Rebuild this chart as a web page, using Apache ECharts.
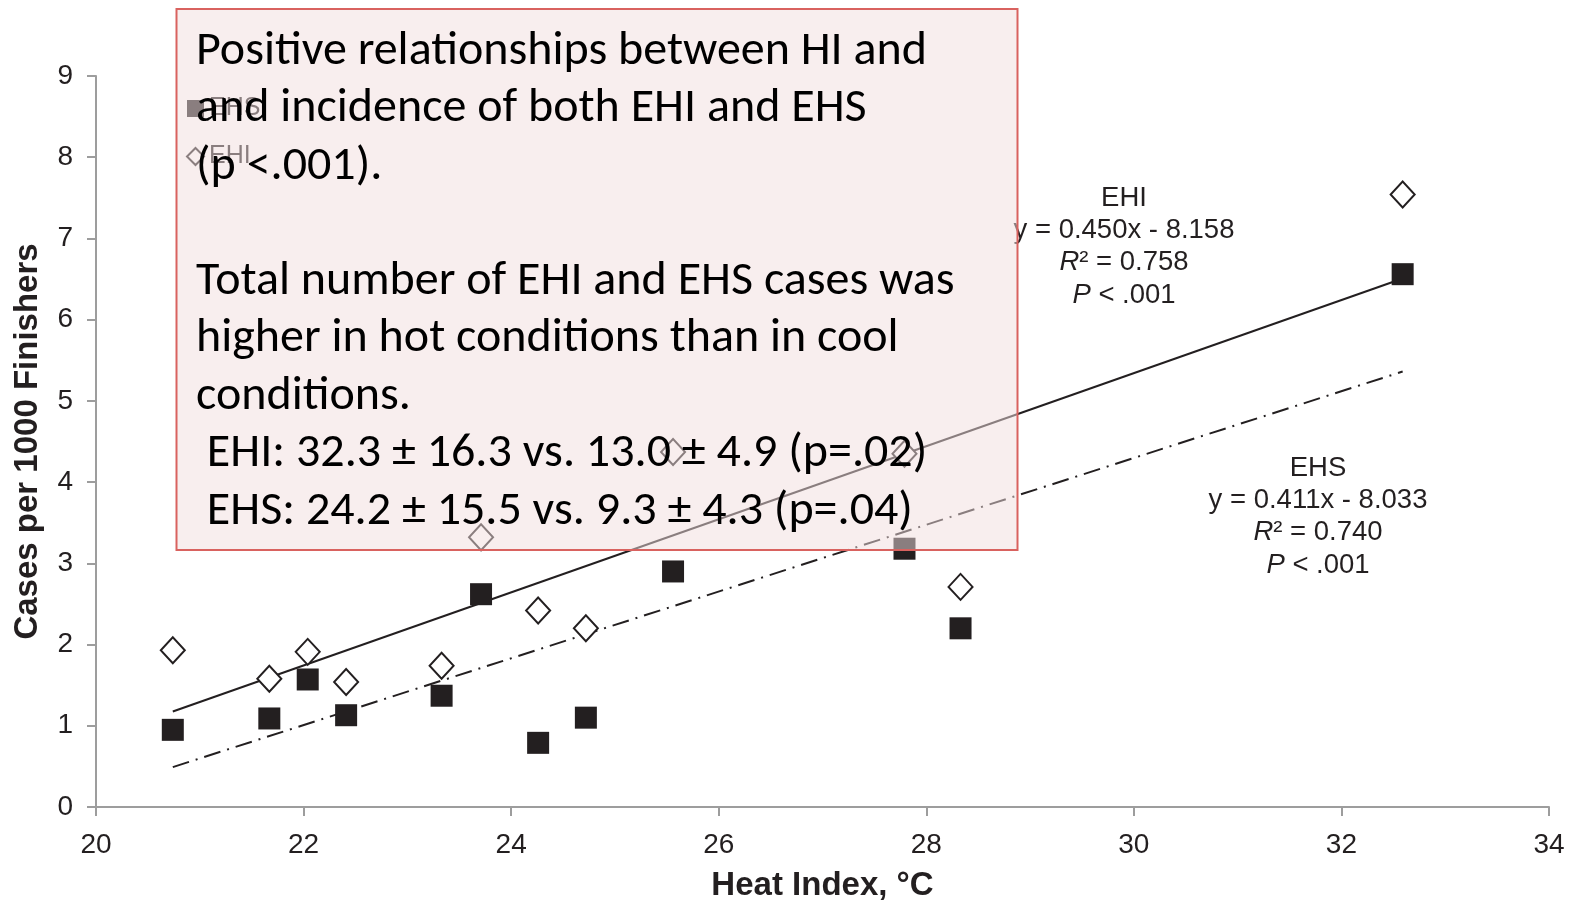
<!DOCTYPE html>
<html>
<head>
<meta charset="utf-8">
<script src="https://cdn.jsdelivr.net/npm/echarts@6/dist/echarts.min.js"></script>
<style>
  html, body { margin: 0; padding: 0; background: #fff; }
  #main { width: 1570px; height: 902px; }
</style>
</head>
<body>
<div id="main"></div>
<script>
var myChart = echarts.init(document.getElementById('main'));

// heat index of each race, deg C
var heatIndex = [20.74, 21.67, 22.04, 22.41, 23.33, 23.71, 24.26, 24.72, 25.56, 27.79, 28.33, 32.59];
// cases per 1000 finishers
var ehiCases = [1.93, 1.58, 1.91, 1.54, 1.74, 3.32, 2.42, 2.20, 4.37, 4.35, 2.71, 7.54];
var ehsCases = [0.95, 1.09, 1.57, 1.13, 1.37, 2.62, 0.79, 1.10, 2.90, 3.18, 2.20, 6.56];
// regression [slope, intercept]
var ehiFit = [0.450, -8.158];
var ehsFit = [0.411, -8.033];
var xTicks = [20, 22, 24, 26, 28, 30, 32, 34];
var yTicks = [0, 1, 2, 3, 4, 5, 6, 7, 8, 9];

var boxLines = [
    'Positive relationships between HI and',
    'and incidence of both EHI and EHS',
    '(p <.001).',
    '',
    'Total number of EHI and EHS cases was',
    'higher in hot conditions than in cool',
    'conditions.',
    ' EHI: 32.3 \u00b1 16.3 vs. 13.0 \u00b1 4.9 (p=.02)',
    ' EHS: 24.2 \u00b1 15.5 vs. 9.3 \u00b1 4.3 (p=.04)'
];
var ehiNote = ['EHI', 'y = 0.450x - 8.158', '{i|R}\u00b2 = 0.758', '{i|P} < .001'];
var ehsNote = ['EHS', 'y = 0.411x - 8.033', '{i|R}\u00b2 = 0.740', '{i|P} < .001'];

var ink = '#231f20';
var font = 'Liberation Sans, Arial, sans-serif';

function pairs(xs, ys) {
    return xs.map(function (x, i) { return [x, ys[i]]; });
}
function fitLine(fit) {
    var x0 = Math.min.apply(null, heatIndex), x1 = Math.max.apply(null, heatIndex);
    return [[x0, fit[0] * x0 + fit[1]], [x1, fit[0] * x1 + fit[1]]];
}

var noteStyle = {
    fontFamily: font,
    fontSize: 27.5,
    fill: ink,
    lineHeight: 32.3,
    textAlign: 'center',
    rich: { i: { fontStyle: 'italic', fontFamily: font, fontSize: 27.5, fill: ink, lineHeight: 32.3 } }
};

option = {
    animation: false,
    backgroundColor: '#fff',
    grid: { left: 96, right: 21, top: 76, bottom: 95, containLabel: false, outerBoundsMode: 'none' },
    legend: {
        data: ['EHS', 'EHI'],
        orient: 'vertical',
        left: 181,
        top: 91,
        itemWidth: 17,
        itemHeight: 17,
        itemGap: 23,
        textStyle: { fontFamily: font, fontSize: 25, color: ink }
    },
    xAxis: {
        type: 'value',
        min: xTicks[0],
        max: xTicks[xTicks.length - 1],
        interval: 2,
        name: 'Heat Index, \u00b0C',
        nameLocation: 'middle',
        nameGap: 62,
        nameTextStyle: { fontFamily: font, fontSize: 33, fontWeight: 'bold', color: ink },
        axisLine: { lineStyle: { color: '#9d9d9d', width: 2 } },
        axisTick: { length: 9, lineStyle: { color: '#9d9d9d', width: 2 } },
        axisLabel: { fontFamily: font, fontSize: 28, color: ink, margin: 24 },
        splitLine: { show: false }
    },
    yAxis: {
        type: 'value',
        min: yTicks[0],
        max: yTicks[yTicks.length - 1],
        interval: 1,
        name: 'Cases per 1000 Finishers',
        nameLocation: 'middle',
        nameGap: 52,
        nameTextStyle: { fontFamily: font, fontSize: 33, fontWeight: 'bold', color: ink },
        axisLine: { show: true, lineStyle: { color: '#9d9d9d', width: 2 } },
        axisTick: { show: true, length: 9, lineStyle: { color: '#9d9d9d', width: 2 } },
        axisLabel: { fontFamily: font, fontSize: 28, color: ink, margin: 23 },
        splitLine: { show: false }
    },
    series: [
        {
            name: 'EHI fit',
            type: 'line',
            data: fitLine(ehiFit),
            symbol: 'none',
            lineStyle: { color: ink, width: 2 },
            z: 2
        },
        {
            name: 'EHS fit',
            type: 'line',
            data: fitLine(ehsFit),
            symbol: 'none',
            lineStyle: { color: ink, width: 2, type: [17, 7, 2, 7] },
            z: 2
        },
        {
            name: 'EHS',
            type: 'scatter',
            symbol: 'rect',
            symbolSize: 22,
            data: pairs(heatIndex, ehsCases),
            itemStyle: { color: ink, opacity: 1 },
            z: 3
        },
        {
            name: 'EHI',
            type: 'scatter',
            symbol: 'diamond',
            symbolSize: [24, 26],
            data: pairs(heatIndex, ehiCases),
            itemStyle: { color: '#fff', borderColor: ink, borderWidth: 2, opacity: 1 },
            z: 3
        }
    ],
    graphic: [
        {
            type: 'text', z: 5, left: 1124 - 140, top: 182,
            style: Object.assign({ text: ehiNote.join('\n'), width: 280 }, noteStyle)
        },
        {
            type: 'text', z: 5, left: 1318 - 140, top: 452,
            style: Object.assign({ text: ehsNote.join('\n'), width: 280 }, noteStyle)
        },
        {
            type: 'rect', z: 100,
            shape: { x: 176.5, y: 9, width: 841, height: 541 },
            style: { fill: 'rgba(242,221,221,0.5)', stroke: '#d9625f', lineWidth: 2 }
        },
        {
            type: 'text', z: 110, left: 196, top: 23,
            style: {
                text: boxLines.join('\n'),
                fontFamily: 'Carlito, Calibri, Lato, sans-serif',
                fontSize: 48,
                lineHeight: 57.5,
                fill: '#000'
            }
        }
    ]
};

myChart.setOption(option);
</script>
</body>
</html>
